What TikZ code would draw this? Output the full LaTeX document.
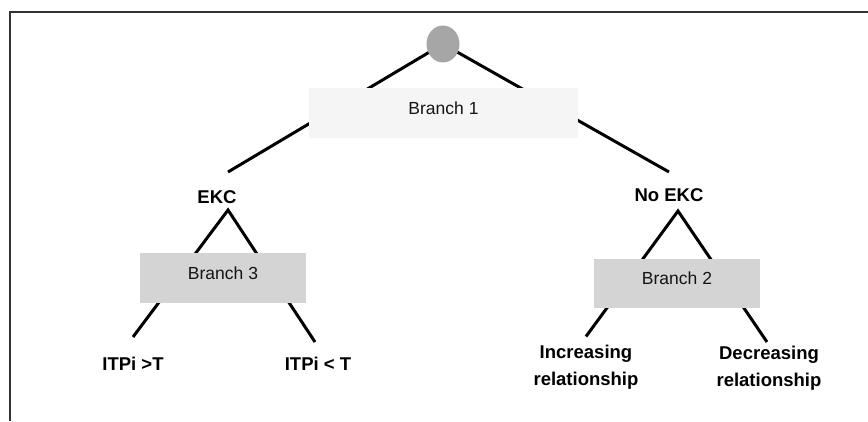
\documentclass[tikz,border=0pt]{standalone}
\usepackage{fontspec}
\setmainfont{Liberation Sans}
\usetikzlibrary{calc,backgrounds,shapes}

\definecolor{rootgray}{HTML}{A6A6A6}
\definecolor{palegray}{HTML}{F5F5F5}
\definecolor{boxgray}{HTML}{D4D4D4}

\begin{document}
\begin{tikzpicture}[
            x=1pt, y=1pt,
            edge/.style={line width=3pt},
            branchbox/.style={rectangle,minimum height=50pt,text height=12pt,text depth=9pt,
              font=\fontsize{17.5}{20}\selectfont,text=black!92},
            lbl/.style={font=\fontsize{18.5}{27}\selectfont\bfseries,align=center,inner sep=1pt}
          ]
          \useasboundingbox (0,0) rectangle (868,421);
          % frame
          \draw[line width=2pt,black!80] (9.5,0) |- (868,408.5);

          \node[ellipse, fill=rootgray, minimum width=33pt, minimum height=37pt, inner sep=0pt] (root) at (443,377) {};
          \node[branchbox, fill=palegray, minimum width=269pt] (b1) at (443.5,308) {Branch 1};
          \node[lbl] (ekc) at (217,224) {EKC};
          \node[lbl] (noekc) at (669,226) {No EKC};
          \node[branchbox, fill=boxgray, minimum width=166pt] (b3) at (223,142.7) {Branch 3};
          \node[branchbox, fill=boxgray, minimum width=166pt, minimum height=48pt] (b2) at (677,137.5) {Branch 2};
          \node[lbl] (itpiup) at (133,57) {ITPi >T};
          \node[lbl] (itpidown) at (318,57) {ITPi < T};
          \node[lbl] (incr) at (586,53.5) {Increasing\\relationship};
          \node[lbl] (decr) at (769,53) {Decreasing\\relationship};

          \begin{scope}[on background layer]
            \draw[edge] (root.center) -- ($(ekc)+(11,25)$);
            \draw[edge] (root.center) -- ($(noekc)+(0,23)$);
            \draw[edge] ($(itpiup)+(0,27)$) -- ($(ekc)+(11,-13)$) -- ($(itpidown)+(-3,22)$);
            \draw[edge] ($(incr)+(0,31)$) -- ($(noekc)+(9,-16)$) -- ($(decr)+(-2,26)$);
          \end{scope}
        \end{tikzpicture}
\end{document}
